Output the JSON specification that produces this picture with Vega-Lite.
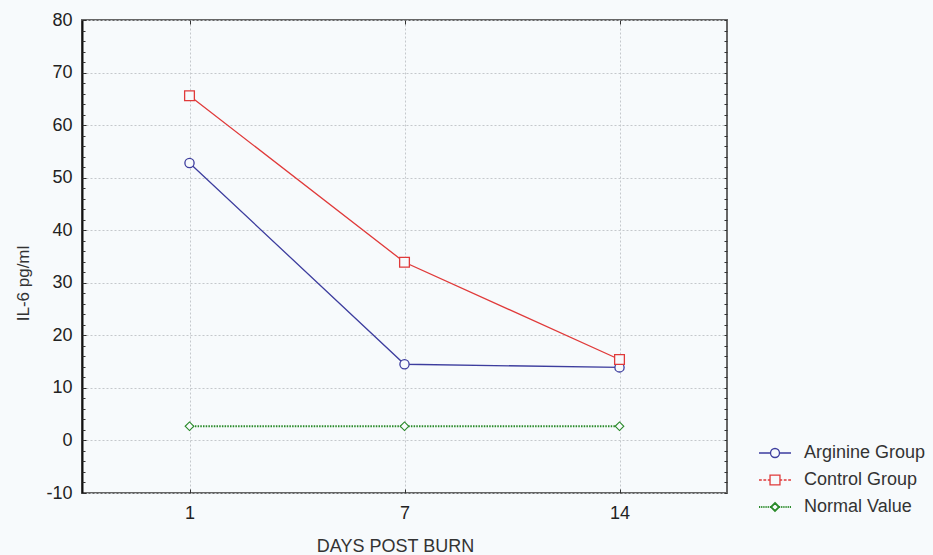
{
  "$schema": "https://vega.github.io/schema/vega-lite/v6.json",
  "width": 645,
  "height": 473,
  "autosize": {"type": "none"},
  "padding": {"left": 82, "top": 20, "right": 206, "bottom": 62},
  "background": "#f7fafc",
  "config": {
    "font": "Liberation Sans",
    "view": {"stroke": "#666666", "strokeWidth": 2}
  },
  "data": {
    "values": [
      {"day": 1, "group": "Arginine Group", "value": 52.8},
      {"day": 7, "group": "Arginine Group", "value": 14.5},
      {"day": 14, "group": "Arginine Group", "value": 13.9},
      {"day": 1, "group": "Control Group", "value": 65.6},
      {"day": 7, "group": "Control Group", "value": 33.9},
      {"day": 14, "group": "Control Group", "value": 15.4},
      {"day": 1, "group": "Normal Value", "value": 2.7},
      {"day": 7, "group": "Normal Value", "value": 2.7},
      {"day": 14, "group": "Normal Value", "value": 2.7}
    ]
  },
  "layer": [
    {
      "transform": [{"filter": "datum.group !== 'Normal Value'"}],
      "mark": {"type": "line", "strokeWidth": 1.3},
      "encoding": {
        "x": {
          "field": "day", "type": "ordinal", "sort": [1, 7, 14],
          "scale": {"type": "point", "padding": 0.5},
          "axis": {
            "orient": "bottom", "title": "DAYS POST BURN", "labelAngle": 0,
            "labelFontSize": 18, "labelColor": "#222222", "labelPadding": 15,
            "tickSize": -4, "tickColor": "#333333", "domain": false,
            "grid": true, "gridDash": [2, 2], "gridColor": "#c4c8cc",
            "titleFontSize": 18, "titleFontWeight": "normal", "titleColor": "#333333",
            "titleX": 313, "titleY": 58, "titleBaseline": "alphabetic"
          }
        },
        "y": {
          "field": "value", "type": "quantitative",
          "scale": {"domain": [-10, 80], "nice": false, "zero": false},
          "axis": {
            "orient": "left", "values": [-10, 0, 10, 20, 30, 40, 50, 60, 70, 80],
            "labelExpr": "'' + datum.value",
            "labelFontSize": 18, "labelColor": "#222222", "labelPadding": 14,
            "tickSize": -4, "tickColor": "#222222",
            "domain": true, "domainColor": "#111111", "domainWidth": 2,
            "grid": true, "gridDash": [2, 2], "gridColor": "#c4c8cc",
            "title": "IL-6 pg/ml", "titleFontSize": 17, "titleFontWeight": "normal",
            "titleColor": "#333333", "titleX": -59, "titleY": 263, "titleBaseline": "middle"
          }
        },
        "color": {
          "field": "group", "type": "nominal",
          "scale": {
            "domain": ["Arginine Group", "Control Group", "Normal Value"],
            "range": ["#3d3d9e", "#e03a3a", "#2a8a2a"]
          },
          "legend": {
            "orient": "none", "legendX": 684, "legendY": 424, "title": null,
            "padding": 0, "symbolSize": 256, "labelFontSize": 18, "labelColor": "#333333",
            "labelOffset": 20, "rowPadding": 9,
            "encode": {
              "symbols": {
                "update": {
                  "shape": {"signal": "datum.value === 'Arginine Group' ? 'M-2,0H-0.56M0.56,0H2M0.56,0A0.56,0.56 0 1 1 -0.56,0A0.56,0.56 0 1 1 0.56,0' : datum.value === 'Control Group' ? 'M-2,0H-1.65M-1.45,0H-1.1M-0.9,0H-0.62M0.62,0H0.9M1.1,0H1.45M1.65,0H2M-0.62,-0.62H0.62V0.62H-0.62Z' : 'M-2,0H-1.85M-1.73,0H-1.58M-1.46,0H-1.31M-1.19,0H-1.04M-0.92,0H-0.77M-0.65,0H-0.5M0.5,0H0.65M0.77,0H0.92M1.04,0H1.19M1.31,0H1.46M1.58,0H1.73M1.85,0H2M0,-0.5L0.5,0L0,0.5L-0.5,0Z'"},
                  "fill": {"value": "transparent"},
                  "strokeWidth": {"signal": "datum.value === 'Normal Value' ? 1.8 : 1.3"},
                  "strokeDash": {"value": []}
                }
              }
            }
          }
        }
      }
    },
    {
      "transform": [{"filter": "datum.group === 'Normal Value'"}],
      "mark": {"type": "line", "strokeWidth": 2, "strokeDash": [1.5, 1.2]},
      "encoding": {
        "x": {"field": "day", "type": "ordinal", "sort": [1, 7, 14], "axis": null},
        "y": {"field": "value", "type": "quantitative", "axis": null},
        "color": {"field": "group", "type": "nominal"}
      }
    },
    {
      "transform": [{"filter": "datum.group === 'Arginine Group'"}],
      "mark": {"type": "point", "shape": "circle", "filled": false, "fill": "#f7fafc", "fillOpacity": 1, "strokeWidth": 1.3, "size": 85, "opacity": 1},
      "encoding": {
        "x": {"field": "day", "type": "ordinal", "sort": [1, 7, 14], "axis": null},
        "y": {"field": "value", "type": "quantitative", "axis": null},
        "color": {"field": "group", "type": "nominal"}
      }
    },
    {
      "transform": [{"filter": "datum.group === 'Control Group'"}],
      "mark": {"type": "point", "shape": "square", "filled": false, "fill": "#f7fafc", "fillOpacity": 1, "strokeWidth": 1.3, "size": 95, "opacity": 1},
      "encoding": {
        "x": {"field": "day", "type": "ordinal", "sort": [1, 7, 14], "axis": null},
        "y": {"field": "value", "type": "quantitative", "axis": null},
        "color": {"field": "group", "type": "nominal"}
      }
    },
    {
      "transform": [{"filter": "datum.group === 'Normal Value'"}],
      "mark": {"type": "point", "shape": "diamond", "filled": false, "fill": "#f7fafc", "fillOpacity": 1, "strokeWidth": 1.1, "size": 75, "opacity": 1},
      "encoding": {
        "x": {"field": "day", "type": "ordinal", "sort": [1, 7, 14], "axis": null},
        "y": {"field": "value", "type": "quantitative", "axis": null},
        "color": {"field": "group", "type": "nominal"}
      }
    },
    {
      "mark": {"type": "point", "opacity": 0},
      "encoding": {
        "x": {
          "field": "day", "type": "ordinal", "sort": [1, 7, 14],
          "axis": {"orient": "top", "labels": false, "title": null, "domain": false, "grid": false, "tickSize": -4, "tickColor": "#333333"}
        },
        "y": {
          "field": "value", "type": "quantitative",
          "axis": {
            "orient": "left", "labels": false, "title": null, "domain": false, "grid": false,
            "tickSize": -3, "tickColor": "#333333",
            "values": [-10, -8, -6, -4, -2, 0, 2, 4, 6, 8, 10, 12, 14, 16, 18, 20, 22, 24, 26, 28, 30, 32, 34, 36, 38, 40, 42, 44, 46, 48, 50, 52, 54, 56, 58, 60, 62, 64, 66, 68, 70, 72, 74, 76, 78, 80]
          }
        }
      }
    },
    {
      "mark": {"type": "point", "opacity": 0},
      "encoding": {
        "x": {"field": "day", "type": "ordinal", "sort": [1, 7, 14], "axis": null},
        "y": {
          "field": "value", "type": "quantitative",
          "axis": {
            "orient": "right", "labels": false, "title": null, "domain": false, "grid": false,
            "tickSize": -3, "tickColor": "#333333",
            "values": [-10, -8, -6, -4, -2, 0, 2, 4, 6, 8, 10, 12, 14, 16, 18, 20, 22, 24, 26, 28, 30, 32, 34, 36, 38, 40, 42, 44, 46, 48, 50, 52, 54, 56, 58, 60, 62, 64, 66, 68, 70, 72, 74, 76, 78, 80]
          }
        }
      }
    }
  ],
  "resolve": {"axis": {"x": "independent", "y": "independent"}}
}
